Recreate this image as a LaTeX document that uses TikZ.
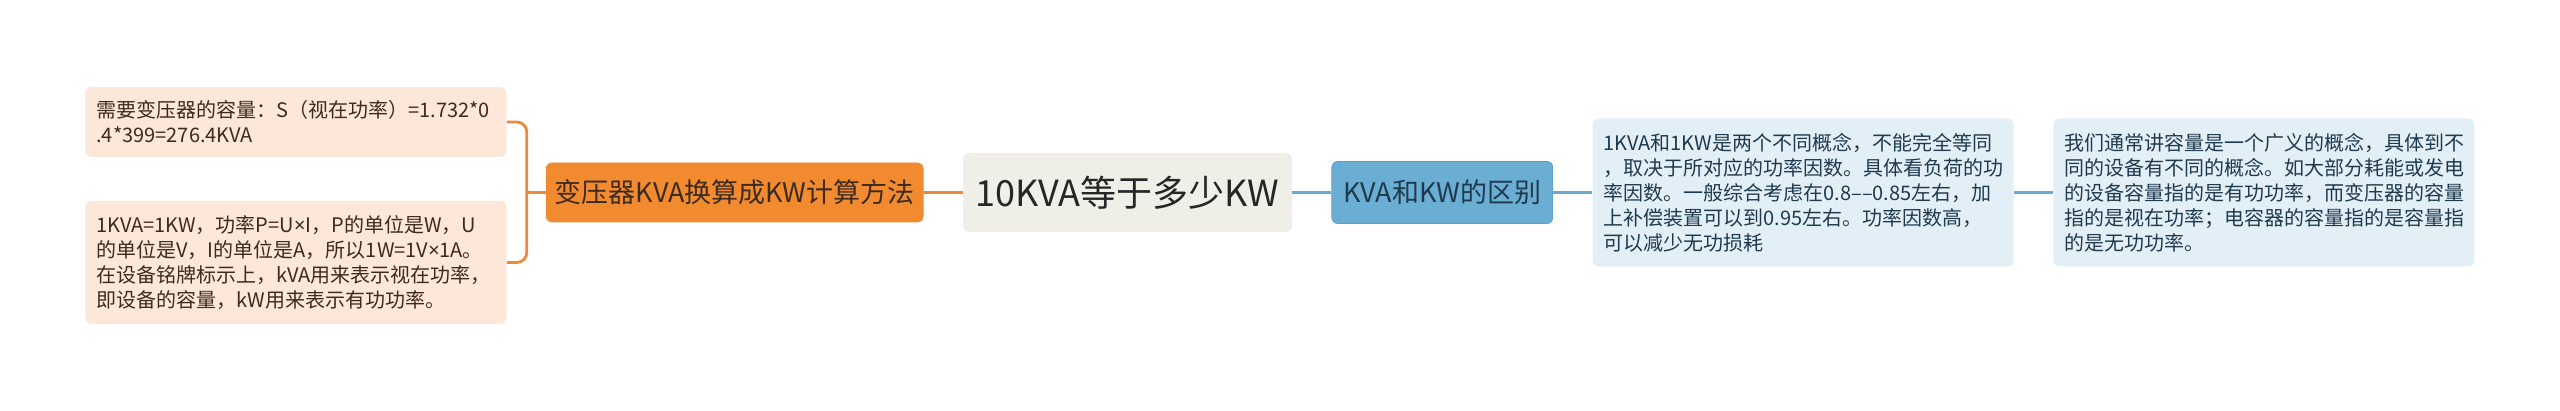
\documentclass[tikz,border=0pt]{standalone}
\usepackage{fontspec}
\setmainfont{Noto Sans CJK SC}
\newfontfamily\latinfont{Noto Sans}
\usepackage{xcolor}
\usepackage{tikz}
\usetikzlibrary{positioning}

\definecolor{rootfill}{HTML}{EFEEE7}
\definecolor{orangefill}{HTML}{F28B30}
\definecolor{orangeline}{HTML}{F0883A}
\definecolor{peach}{HTML}{FCE7D8}
\definecolor{peachtext}{HTML}{3D2B1F}
\definecolor{bluefill}{HTML}{6BAED3}
\definecolor{blueedge}{HTML}{5E9EC4}
\definecolor{blueline}{HTML}{6AAAD0}
\definecolor{bluepale}{HTML}{E3EFF7}
\definecolor{bluetext}{HTML}{1F3A4D}
\newcommand{\tms}{{\latinfont ×}}

\begin{document}
\begin{tikzpicture}[x=0.5pt, y=-0.5pt, node distance=19.5pt]
\tikzstyle{box}=[rectangle, rounded corners=3pt, inner sep=0pt]
\tikzstyle{branch}=[box, minimum height=29.5pt, font=\fontsize{13.5pt}{16pt}\selectfont]
\tikzstyle{leaf}=[box, text width=199.5pt, inner xsep=5.5pt, align=left, font=\fontsize{10pt}{12.5pt}\selectfont]
\tikzstyle{peachleaf}=[leaf, fill=peach, text=peachtext]
\tikzstyle{blueleaf}=[leaf, fill=bluepale, text=bluetext]
\tikzstyle{orangelink}=[draw=orangeline, line width=1.4pt]
\tikzstyle{bluelink}=[draw=blueline, line width=1.4pt]
  \useasboundingbox (0,0) rectangle (2560,411);
  \node[box, fill=rootfill, text=black!85, minimum width=164.5pt, minimum height=39.5pt,
        font=\fontsize{18pt}{20pt}\selectfont] (rootnode) at (1127.5,192.5) {10KVA等于多少KW};
  \node[branch, fill=orangefill, draw=orangeline, text=peachtext, minimum width=188.5pt] (methodnode) [left=of rootnode] {变压器KVA换算成KW计算方法};
  \node[branch, fill=bluefill, draw=blueedge, text=bluetext, minimum width=110.5pt, minimum height=31pt] (diffnode) [right=of rootnode] {KVA和KW的区别};
  \node[peachleaf, minimum height=35pt] (calcleaf) [left=of methodnode, yshift=35.25pt]
    {需要变压器的容量：S（视在功率）=1.732*0\\.4*399=276.4KVA};
  \node[peachleaf, minimum height=61.5pt] (unitleaf) [left=of methodnode, yshift=-35pt]
    {1KVA=1KW，功率P=U\tms I，P的单位是W，U\\的单位是V，I的单位是A，所以1W=1V\tms 1A。\\在设备铭牌标示上，kVA用来表示视在功率，\\即设备的容量，kW用来表示有功功率。};
  \node[blueleaf, minimum height=74pt] (conceptleaf) [right=of diffnode]
    {1KVA和1KW是两个不同概念，不能完全等同\\，取决于所对应的功率因数。具体看负荷的功\\率因数。一般综合考虑在0.8––0.85左右，加\\上补偿装置可以到0.95左右。功率因数高，\\可以减少无功损耗};
  \node[blueleaf, minimum height=74pt] (capleaf) [right=of conceptleaf]
    {我们通常讲容量是一个广义的概念，具体到不\\同的设备有不同的概念。如大部分耗能或发电\\的设备容量指的是有功功率，而变压器的容量\\指的是视在功率；电容器的容量指的是容量指\\的是无功功率。};
  \coordinate[left=9.5pt of methodnode] (brk);
  \draw[orangelink, rounded corners=5pt] (calcleaf.east) -- (calcleaf.east -| brk)
    -- (unitleaf.east -| brk) -- (unitleaf.east);
  \path (brk) edge [orangelink] (methodnode.west)
        (methodnode) edge [orangelink] (rootnode)
        (rootnode) edge [bluelink] (diffnode)
        (diffnode) edge [bluelink] (conceptleaf)
        (conceptleaf) edge [bluelink] (capleaf);
\end{tikzpicture}
\end{document}
